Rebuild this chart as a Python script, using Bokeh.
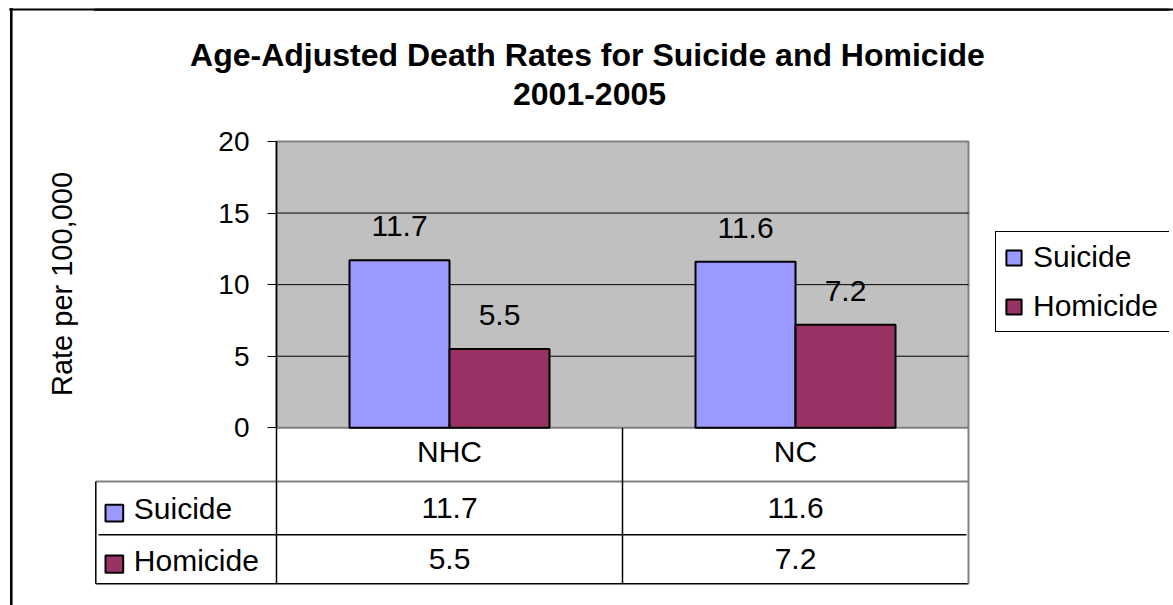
from math import pi
from bokeh.plotting import figure
from bokeh.models import (Range1d, FixedTicker, BoxAnnotation, Label,
                          Legend, LegendItem, ColumnDataSource)
from bokeh.embed import file_html
from bokeh.resources import INLINE
from bokeh.core.properties import value

# ---------------- data ----------------
categories = ["NHC", "NC"]
series = ["Suicide", "Homicide"]
suicide = [11.7, 11.6]
homicide = [5.5, 7.2]
y_ticks = [0, 5, 10, 15, 20]
grid_ticks = [5, 10, 15]
title_lines = ["Age-Adjusted Death Rates for Suicide and Homicide", "2001-2005"]
y_label = "Rate per 100,000"
colors = ["#9999FF", "#993366"]

# ---------------- layout helpers (page pixels) ----------------
FONT = "Liberation Sans"
W, H = 1173, 605
FL, FR, FT, FB = 93, 1169, 8, 605        # frame edges on the page
AX_X = 276                               # page x of the value axis
PX_X = 346.0                             # pixels per category
Y0_PX, PX_Y = 427.3, 14.315              # page y of value 0, pixels per unit


def dx(px):
    return (px - AX_X) / PX_X


def dy(py):
    return (Y0_PX - py) / PX_Y


p = figure(width=W, height=H, output_backend="svg", toolbar_location=None,
           x_range=Range1d(dx(FL), dx(FR)), y_range=Range1d(dy(FB), dy(FT)),
           x_axis_location=None,
           min_border_left=FL, min_border_right=W - FR,
           min_border_top=FT, min_border_bottom=H - FB)
p.outline_line_color = None
p.background_fill_color = "white"
p.border_fill_color = "white"
p.xgrid.visible = False
p.ygrid.visible = False

n = len(categories)
xc = [i + 0.5 for i in range(n)]
BW = 100 / PX_X
src = ColumnDataSource(dict(
    cat=categories,
    xs=[x - BW / 2 for x in xc],
    xh=[x + BW / 2 for x in xc],
    xc=xc,
    suicide=suicide,
    homicide=homicide,
    s_lbl=[f"{v:.1f}" for v in suicide],
    h_lbl=[f"{v:.1f}" for v in homicide],
))

# gray plot area and horizontal gridlines
p.quad(left=0, right=n, bottom=y_ticks[0], top=y_ticks[-1], level="image",
       fill_color="#C0C0C0", line_color="#808080", line_width=2)
p.segment(x0=[0] * len(grid_ticks), y0=grid_ticks, x1=[n] * len(grid_ticks), y1=grid_ticks,
          line_color="black", line_width=1, level="underlay")

# bars
r1 = p.vbar(x="xs", top="suicide", width=BW, source=src,
            fill_color=colors[0], line_color="black", line_width=2)
r2 = p.vbar(x="xh", top="homicide", width=BW, source=src,
            fill_color=colors[1], line_color="black", line_width=2)

lbl_kw = dict(text_align="center", text_baseline="middle",
              text_font=value(FONT), text_color="black")
p.text(x="xs", y="suicide", text="s_lbl", source=src, y_offset=-34,
       text_font_size="30px", **lbl_kw)
p.text(x="xh", y="homicide", text="h_lbl", source=src, y_offset=-34,
       text_font_size="30px", **lbl_kw)

# value axis, drawn at the left edge of the plot area
ax = p.yaxis[0]
ax.fixed_location = 0
ax.ticker = FixedTicker(ticks=y_ticks)
ax.bounds = (dy(583.3), y_ticks[-1])
ax.axis_line_color = "black"
ax.axis_line_width = 1.5
ax.major_tick_out = 9
ax.major_tick_in = 0
ax.minor_tick_out = 0
ax.minor_tick_in = 0
ax.major_tick_line_color = "black"
ax.major_label_text_font = FONT
ax.major_label_text_font_size = "28px"
ax.major_label_text_color = "black"
ax.major_label_standoff = 18

# ---------------- data table ----------------
T_HDR, T_MID, T_BOT, T_LEFT = 481, 534.3, 583.3, 95.3
p.segment(x0=[dx(T_LEFT)], y0=[dy(T_HDR)], x1=[n], y1=[dy(T_HDR)], line_color="#808080", line_width=2)
p.segment(x0=[dx(98)], y0=[dy(T_MID)], x1=[dx(966)], y1=[dy(T_MID)], line_color="black", line_width=1.5)
p.segment(x0=[dx(T_LEFT)], y0=[dy(T_BOT)], x1=[n], y1=[dy(T_BOT)], line_color="black", line_width=1.5)
p.segment(x0=[dx(T_LEFT)], y0=[dy(T_HDR)], x1=[dx(T_LEFT)], y1=[dy(T_BOT)], line_color="black", line_width=1.5)
p.segment(x0=[1], y0=[0], x1=[1], y1=[dy(T_BOT)], line_color="black", line_width=1.5)
p.segment(x0=[n], y0=[0], x1=[n], y1=[dy(T_BOT)], line_color="#808080", line_width=2)

p.text(x="xc", y=dy(451.2), text="cat", source=src, text_font_size="30px", **lbl_kw)
p.text(x="xc", y=dy(507.8), text="s_lbl", source=src, text_font_size="30px", **lbl_kw)
p.text(x="xc", y=dy(558.3), text="h_lbl", source=src, text_font_size="30px", **lbl_kw)

sw_rows = [(504.3, 521.0, 508.3), (555.0, 572.3, 560.0)]
for name, col, (top, bot, mid) in zip(series, colors, sw_rows):
    p.add_layout(BoxAnnotation(left=dx(105), right=dx(122.7), top=dy(top), bottom=dy(bot),
                               fill_color=col, fill_alpha=1, line_color="black",
                               line_alpha=1, line_width=2))
    p.add_layout(Label(x=dx(133.3), y=dy(mid), text=name, text_font=FONT,
                       text_font_size="30px", text_align="left",
                       text_baseline="middle", text_color="black"))

# ---------------- title / axis label ----------------
p.add_layout(Label(x=dx(587), y=dy(54), text=title_lines[0], text_font=FONT,
                   text_font_size="32px", text_font_style="bold", text_color="black",
                   text_align="center", text_baseline="middle"))
p.add_layout(Label(x=dx(589), y=dy(93.7), text=title_lines[1], text_font=FONT,
                   text_font_size="32px", text_font_style="bold", text_color="black",
                   text_align="center", text_baseline="middle"))
p.add_layout(Label(x=dx(61), y=dy(283.5), text=y_label, angle=pi / 2,
                   text_font=FONT, text_font_size="29px", text_color="black",
                   text_align="center", text_baseline="middle"), "left")

# ---------------- outer chart border (left and top edges) ----------------
p.segment(x0=[dx(FL)], y0=[dy(9)], x1=[dx(1180)], y1=[dy(9)], line_color="black", line_width=2.5)
try:
    # left edge: thin filled box (side-panel annotations are not clipped to the frame)
    p.add_layout(Label(x=dx(10.8), y=dy(306.5), text=" ", text_font_size="2px",
                       text_align="center", text_baseline="middle",
                       background_fill_color="black", background_fill_alpha=1,
                       padding=dict(left=1, right=1, top=298, bottom=298)), "right")
    # top edge, left part
    p.add_layout(Label(x=dx(591), y=dy(9), text=" ", text_font_size="2px",
                       text_align="center", text_baseline="middle",
                       background_fill_color="black", background_fill_alpha=1,
                       padding=dict(left=582, right=582, top=0, bottom=0)), "above")
except Exception:
    pass

# ---------------- legend ----------------
legend = Legend(items=[LegendItem(label=series[0], renderers=[r1]),
                       LegendItem(label=series[1], renderers=[r2])],
                location=(995 - FL, FB - 332), margin=0, padding=8, spacing=15,
                glyph_width=19, glyph_height=19, label_standoff=10,
                label_text_font=FONT, label_text_font_size="30px",
                label_text_color="black",
                label_width=128, label_height=34,
                border_line_color="black", border_line_width=1, border_line_alpha=1,
                background_fill_color="white", background_fill_alpha=1)
p.add_layout(legend)

open("out.html", "w").write(file_html(p, INLINE))
